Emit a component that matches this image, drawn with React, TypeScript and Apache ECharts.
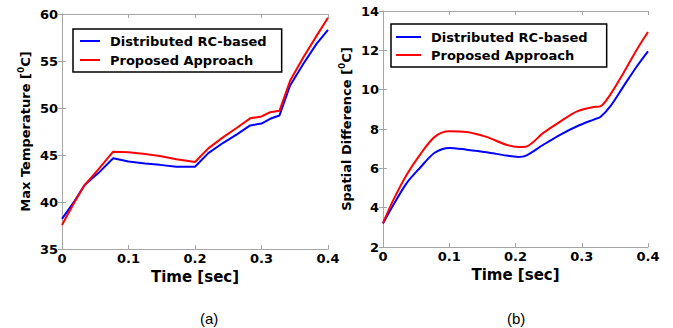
import React, { useEffect, useRef } from "react";
import * as echarts from "echarts";

const seriesNames = ["Distributed RC-based", "Proposed Approach"];
const xTicksMax = 0.4;

// (a) Max temperature
const timeA = [0, 0.017, 0.034, 0.055, 0.077, 0.1, 0.125, 0.147, 0.172, 0.2, 0.22, 0.2425, 0.263, 0.283, 0.3, 0.313, 0.327, 0.343, 0.363, 0.383, 0.4];
const rcA = [38.2, 39.9, 41.8, 43.1, 44.65, 44.3, 44.1, 43.95, 43.75, 43.75, 45.2, 46.3, 47.2, 48.15, 48.35, 48.85, 49.2, 52.4, 54.7, 56.85, 58.3];
const propA = [37.55, 39.75, 41.8, 43.5, 45.35, 45.3, 45.1, 44.9, 44.55, 44.25, 45.7, 46.9, 47.9, 48.9, 49.1, 49.55, 49.7, 52.9, 55.4, 57.7, 59.6];

// (b) Spatial difference
const timeB = [0, 0.016, 0.036, 0.056, 0.078, 0.1, 0.126, 0.156, 0.186, 0.204, 0.215, 0.242, 0.268, 0.293, 0.318, 0.328, 0.343, 0.363, 0.383, 0.4];
const rcB = [3.2, 4.16, 5.26, 6.03, 6.79, 7.04, 6.95, 6.82, 6.65, 6.58, 6.63, 7.2, 7.72, 8.14, 8.48, 8.61, 9.15, 10.17, 11.18, 11.95];
const propB = [3.22, 4.42, 5.69, 6.7, 7.6, 7.88, 7.85, 7.6, 7.2, 7.09, 7.1, 7.8, 8.39, 8.9, 9.12, 9.15, 9.75, 10.85, 12.03, 12.93];

const FONT = "DejaVu Sans";
const AXIS_GRAY = "#a6a6a6";

const pairs = (xs: number[], ys: number[]) => xs.map((x, i) => [x, ys[i]]);

function xAxes(gridIndex: number) {
  const base = {
    type: "value" as const,
    gridIndex,
    min: 0,
    max: xTicksMax,
    interval: 0.1,
    axisLine: { show: true, lineStyle: { color: AXIS_GRAY, width: 1 } },
    axisTick: { show: true, inside: true, length: 4, lineStyle: { color: AXIS_GRAY } },
    splitLine: { show: false },
  };
  return [
    {
      ...base,
      position: "bottom",
      axisLabel: { show: true, color: "#000", fontFamily: FONT, fontWeight: "bold", fontSize: 13, margin: 3 },
      name: "Time [sec]",
      nameLocation: "middle",
      nameGap: 20,
      nameTextStyle: { color: "#000", fontFamily: FONT, fontWeight: "bold", fontSize: 15, verticalAlign: "top" },
    },
    { ...base, position: "top", axisLabel: { show: false } },
  ];
}

function yAxes(gridIndex: number, min: number, max: number, interval: number, name: string) {
  const base = {
    type: "value" as const,
    gridIndex,
    min,
    max,
    interval,
    axisLine: { show: true, lineStyle: { color: AXIS_GRAY, width: 1 } },
    axisTick: { show: true, inside: true, length: 4, lineStyle: { color: AXIS_GRAY } },
    splitLine: { show: false },
  };
  return [
    {
      ...base,
      position: "left",
      axisLabel: { show: true, color: "#000", fontFamily: FONT, fontWeight: "bold", fontSize: 13, margin: 4 },
      name,
      nameLocation: "middle",
      nameGap: 28,
      nameTextStyle: {
        color: "#000",
        fontFamily: FONT,
        fontWeight: "bold",
        fontSize: 13,
        lineHeight: 18,
        rich: {
          sup: { fontFamily: FONT, fontWeight: "bold", fontSize: 9, lineHeight: 10, verticalAlign: "top", color: "#000" },
        },
      },
    },
    { ...base, position: "right", axisLabel: { show: false } },
  ];
}

function legend(left: number, top: number, padding: number[], itemGap: number, itemWidth: number) {
  return {
    left,
    top,
    orient: "vertical",
    data: seriesNames,
    backgroundColor: "#fff",
    borderColor: "#000",
    borderWidth: 1.5,
    borderRadius: 0,
    padding,
    itemGap,
    itemWidth,
    itemHeight: 2,
    icon: "rect",
    selectedMode: false,
    textStyle: { color: "#000", fontFamily: FONT, fontWeight: "bold", fontSize: 13, lineHeight: 14, padding: [0, 0, 0, 5] },
  };
}

function lineSeries(name: string, color: string, data: number[][], axisIndex: number, smooth: boolean | number) {
  return {
    type: "line",
    name,
    xAxisIndex: axisIndex,
    yAxisIndex: axisIndex,
    data,
    symbol: "none",
    smooth,
    lineStyle: { color, width: 2 },
    itemStyle: { color },
  };
}

export default function App() {
  const ref = useRef<HTMLDivElement>(null);
  useEffect(() => {
    if (!ref.current) return;
    const chart = echarts.init(ref.current, undefined, { renderer: "svg" });
    chart.setOption({
      animation: false,
      backgroundColor: "#fff",
      grid: [
        { left: 62, top: 14, width: 266, height: 235, containLabel: false },
        { left: 383, top: 11, width: 265, height: 236, containLabel: false },
      ],
      xAxis: [...xAxes(0), ...xAxes(1)],
      yAxis: [
        ...yAxes(0, 35, 60, 5, "Max Temperature [{sup|0}C]"),
        ...yAxes(1, 2, 14, 2, "Spatial Difference [{sup|0}C]"),
      ],
      legend: [
        legend(73, 29, [5, 15, 5, 7], 5, 20),
        legend(391, 24, [6, 19, 5, 5], 4, 25),
      ],
      series: [
        lineSeries(seriesNames[0], "#0000ff", pairs(timeA, rcA), 0, false),
        lineSeries(seriesNames[1], "#ff0000", pairs(timeA, propA), 0, false),
        lineSeries(seriesNames[0], "#0000ff", pairs(timeB, rcB), 2, 0.3),
        lineSeries(seriesNames[1], "#ff0000", pairs(timeB, propB), 2, 0.3),
      ],
      graphic: [
        { type: "text", left: 200, top: 311, style: { text: "(a)", fontFamily: "Liberation Sans", fontSize: 15, fill: "#000" } },
        { type: "text", left: 507, top: 311, style: { text: "(b)", fontFamily: "Liberation Sans", fontSize: 15, fill: "#000" } },
      ],
    });
    return () => chart.dispose();
  }, []);
  return (
    <div
      ref={ref}
      style={{ position: "absolute", left: 0, top: 0, width: 673, height: 328, background: "#fff" }}
    />
  );
}
